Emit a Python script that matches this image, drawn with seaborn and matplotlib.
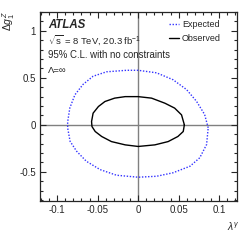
import matplotlib
matplotlib.use("Agg")
import matplotlib.pyplot as plt
import seaborn as sns
import pandas as pd
from matplotlib.ticker import MultipleLocator, FixedLocator, FixedFormatter

# Expected 95% CL contour
exp_x = [0.0864, 0.082, 0.072, 0.0597, 0.043, 0.0227, 0.0, -0.0143, -0.039, -0.0556, -0.068,
         -0.078, -0.0843, -0.087, -0.087, -0.084, -0.076, -0.064, -0.047, -0.0267, 0.0,
         0.0227, 0.043, 0.064, 0.076, 0.0844, 0.0864]
exp_y = [-0.032, 0.11, 0.25, 0.375, 0.48, 0.553, 0.58, 0.58, 0.564, 0.517, 0.43,
         0.32, 0.18, 0.03, -0.032, -0.175, -0.28, -0.387, -0.476, -0.536, -0.557,
         -0.547, -0.51, -0.44, -0.35, -0.21, -0.032]

# Observed 95% CL contour
obs_x = [0.057, 0.0535, 0.045, 0.033, 0.0165, 0.0, -0.016, -0.029, -0.041, -0.049, -0.0556,
         -0.0575, -0.057, -0.053, -0.045, -0.033, -0.016, 0.0, 0.0206, 0.037, 0.049, 0.0556, 0.057]
obs_y = [0.0, 0.106, 0.178, 0.23, 0.284, 0.30, 0.30, 0.284, 0.248, 0.195, 0.124,
         0.035, -0.018, -0.071, -0.124, -0.178, -0.213, -0.23, -0.213, -0.178, -0.124, -0.071, 0.0]

series = ["Expected", "Observed"]
x_ticks = [-0.1, -0.05, 0, 0.05, 0.1]
x_labels = ["-0.1", "-0.05", "0", "0.05", "0.1"]
y_ticks = [-0.5, 0, 0.5, 1]
y_labels = ["-0.5", "0", "0.5", "1"]

df = pd.concat([
    pd.DataFrame({"x": exp_x, "y": exp_y, "s": series[0]}),
    pd.DataFrame({"x": obs_x, "y": obs_y, "s": series[1]}),
])

sns.set_style("ticks")
plt.rcParams["font.family"] = ["Liberation Sans", "DejaVu Sans"]
plt.rcParams["mathtext.fontset"] = "custom"
plt.rcParams["mathtext.rm"] = "Liberation Sans"
plt.rcParams["mathtext.it"] = "Liberation Sans:italic"

fig = plt.figure(figsize=(2.49, 2.40), dpi=100)
ax = fig.add_axes([0.161, 0.1625, 0.791, 0.7875])

ax.axhline(0, color="#808080", lw=1.0, zorder=0)
ax.axvline(0, color="#808080", lw=1.0, zorder=0)

sns.lineplot(data=df, x="x", y="y", hue="s", style="s", sort=False, estimator=None,
             palette={"Expected": "#3333ff", "Observed": "black"},
             dashes={"Expected": (1, 1.2), "Observed": ""},
             linewidth=1.0, ax=ax, legend=False)

ax.plot([], [], color="#3333ff", ls=(0, (1, 1.2)), lw=1.0, label="Expected")
ax.plot([], [], color="black", lw=1.0, label="Observed")
ax.legend(loc="upper right", frameon=False, fontsize=6.5, handlelength=1.2,
          handletextpad=0.3, borderaxespad=0.5, labelspacing=0.55,
          bbox_to_anchor=(0.96, 1.0))

ax.set_xlim(-0.121, 0.122)
ax.set_ylim(-0.81, 1.2)
ax.xaxis.set_major_locator(FixedLocator(x_ticks))
ax.xaxis.set_major_formatter(FixedFormatter(x_labels))
ax.yaxis.set_major_locator(FixedLocator(y_ticks))
ax.yaxis.set_major_formatter(FixedFormatter(y_labels))
ax.xaxis.set_minor_locator(MultipleLocator(0.01))
ax.yaxis.set_minor_locator(MultipleLocator(0.1))
ax.tick_params(which="both", direction="in", top=True, right=True, labelsize=7, width=0.8)
ax.tick_params(which="major", length=4.5, pad=3)
ax.tick_params(which="minor", length=2.3)
for sp in ax.spines.values():
    sp.set_linewidth(0.9)

ax.set_xlabel("")
ax.set_ylabel("")
fig.text(0.935, 0.03, r"$\lambda^{\gamma}$", fontsize=7.5, ha="center", va="bottom")
fig.text(0.035, 0.955, r"$\Delta g_1^Z$", fontsize=7.5, rotation=90, ha="center", va="top")

ax.text(0.04, 0.93, "ATLAS", transform=ax.transAxes, fontsize=8.3, fontweight="bold",
        fontstyle="italic", va="center")
ax.text(0.04, 0.85, r"$\sqrt{\mathrm{s}}$ = 8 TeV, 20.3 fb$^{-1}$", transform=ax.transAxes,
        fontsize=6.8, va="center")
ax.text(0.04, 0.775, "95% C.L. with no constraints", transform=ax.transAxes,
        fontsize=6.9, va="center")
ax.text(0.04, 0.69, "Λ=∞", transform=ax.transAxes, fontsize=6.8, va="center")

fig.savefig("out.png", dpi=100)
